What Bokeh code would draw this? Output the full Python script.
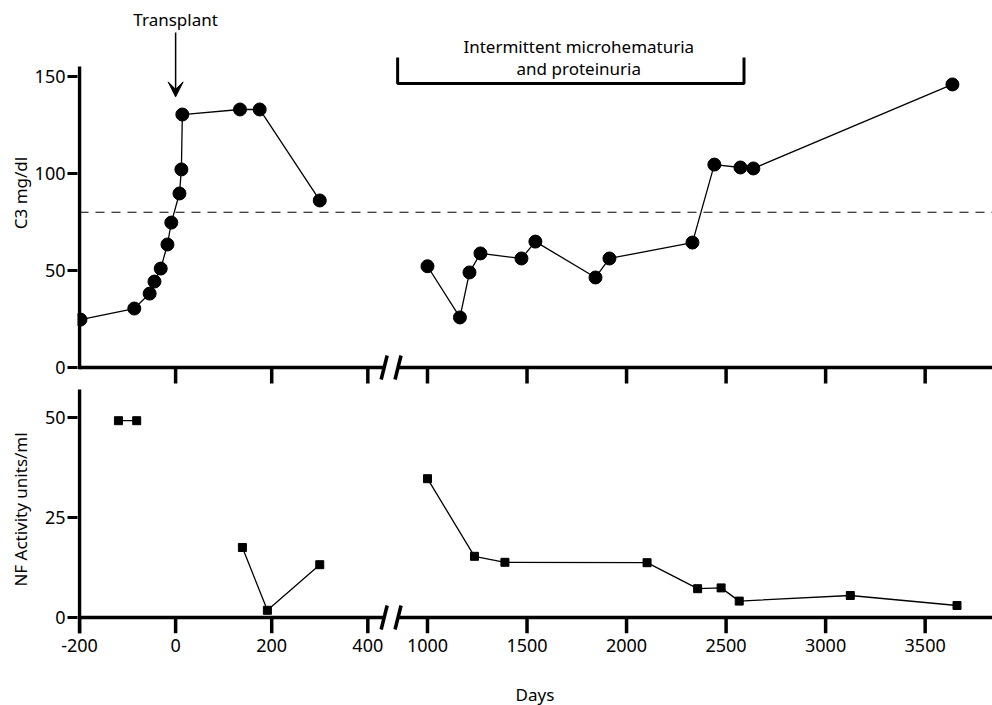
from bokeh.plotting import figure
from bokeh.layouts import column
from bokeh.models import FixedTicker, Range1d, Arrow, VeeHead
from bokeh.core.properties import value
from bokeh.embed import file_html
from bokeh.resources import INLINE

# ---------------- data ----------------
C3_DAYS_EARLY = [-198, -86, -54, -44, -31, -17, -9, 8, 12, 14, 134, 175, 300]
C3_EARLY = [24.7, 30.4, 38.1, 44.3, 51.0, 63.4, 74.7, 89.7, 102.1, 130.4, 133.0, 133.0, 86.1]
C3_DAYS_LATE = [1000, 1163, 1211, 1266, 1472, 1542, 1844, 1914, 2331, 2441, 2572, 2637, 3637]
C3_LATE = [52.2, 25.8, 49.0, 58.8, 56.2, 64.9, 46.4, 56.2, 64.4, 104.6, 103.1, 102.6, 145.9]

NF_DAYS_PRE = [-119, -81]
NF_PRE = [49.2, 49.2]
NF_DAYS_EARLY = [139, 191, 300]
NF_EARLY = [17.5, 1.8, 13.2]
NF_DAYS_LATE = [1000, 1236, 1389, 2103, 2357, 2475, 2566, 3124, 3660]
NF_LATE = [34.7, 15.3, 13.8, 13.7, 7.2, 7.4, 4.1, 5.5, 3.0]

C3_NORMAL_LIMIT = 80
TRANSPLANT_DAY = 0
SYMPTOM_DAYS = [850, 2590]

X_TICKS = [-200, 0, 200, 400, 1000, 1500, 2000, 2500, 3000, 3500]
C3_TICKS = [0, 50, 100, 150]
NF_TICKS = [0, 25, 50]

# ---------------- broken x axis ----------------
BREAK_LEFT_DAY = 434
BREAK_RIGHT_DAY = 852
LATE_ORIGIN_POS = 524.2
LATE_SCALE = 0.4143


def xpos(d):
    if d <= 700:
        return d
    return round(LATE_ORIGIN_POS + (d - 1000) * LATE_SCALE, 3)


def xs(days):
    return [xpos(d) for d in days]


FONT = value("Noto Sans")
FRAME_W = 915
X_START, X_END = -204.2, 1700.1
PX_X = FRAME_W / (X_END - X_START)

TOP_H = 385
TOP_Y = (-9.278, 189.175)
TOP_PX = TOP_H / (TOP_Y[1] - TOP_Y[0])
BOT_H = 248
BOT_Y = (-4.0, 58.0)
BOT_PX = BOT_H / (BOT_Y[1] - BOT_Y[0])

AXW = 3.5


def base_fig(h, yr, **kw):
    p = figure(width=992, height=h, frame_width=FRAME_W, frame_height=h,
               x_range=Range1d(X_START, X_END), y_range=Range1d(*yr),
               output_backend="svg", toolbar_location=None,
               min_border_left=77, min_border_right=0, min_border_top=0,
               **kw)
    p.xgrid.visible = False
    p.ygrid.visible = False
    p.outline_line_color = None
    p.background_fill_color = "white"
    p.border_fill_color = "white"
    return p


def style_y(p, ticks, label, standoff):
    ax = p.yaxis[0]
    ax.ticker = FixedTicker(ticks=ticks)
    ax.axis_line_color = None
    ax.major_tick_out = 10
    ax.major_tick_in = 0
    ax.major_tick_line_width = 3
    ax.major_tick_line_color = "black"
    ax.minor_tick_line_color = None
    ax.major_label_standoff = 2
    ax.major_label_text_font = "Noto Sans"
    ax.major_label_text_font_size = "18px"
    ax.major_label_text_color = "black"
    ax.axis_label = label
    ax.axis_label_text_font = "Noto Sans"
    ax.axis_label_text_font_size = "17px"
    ax.axis_label_text_font_style = "normal"
    ax.axis_label_text_color = "black"
    ax.axis_label_standoff = standoff


def draw_x_axis(p, px_per_y, ticks, y_top_axis):
    tick_len = 16 / px_per_y
    # axis line in two pieces
    p.segment(x0=[xpos(X_TICKS[0])], y0=[0], x1=[xpos(BREAK_LEFT_DAY)], y1=[0],
              line_width=AXW, line_color="black")
    p.segment(x0=[xpos(BREAK_RIGHT_DAY)], y0=[0], x1=[X_END], y1=[0],
              line_width=AXW, line_color="black")
    # y axis line
    p.segment(x0=[xpos(X_TICKS[0])], y0=[-tick_len if ticks[0] == X_TICKS[0] else -1.8 / px_per_y],
              x1=[xpos(X_TICKS[0])], y1=[y_top_axis], line_width=AXW, line_color="black")
    # tick marks
    tx = xs(ticks)
    p.segment(x0=tx, y0=[0] * len(tx), x1=tx, y1=[-tick_len] * len(tx),
              line_width=AXW, line_color="black")
    # break slashes
    dx = 3 / PX_X
    dy = 12 / px_per_y
    for d in (BREAK_LEFT_DAY, BREAK_RIGHT_DAY):
        c = xpos(d)
        p.segment(x0=[c - dx], y0=[-dy], x1=[c + dx], y1=[dy],
                  line_width=AXW, line_color="black")


# ---------------- top panel: C3 ----------------
top = base_fig(TOP_H, TOP_Y, x_axis_location=None, min_border_bottom=0)
style_y(top, C3_TICKS, "C3 mg/dl", 0)
draw_x_axis(top, TOP_PX, X_TICKS[1:], 155.2)

top.segment(x0=[xpos(X_TICKS[0])], y0=[C3_NORMAL_LIMIT], x1=[X_END], y1=[C3_NORMAL_LIMIT],
            line_width=1.1, line_color="black", line_dash="9 7")

for dd, vv in ((C3_DAYS_EARLY, C3_EARLY), (C3_DAYS_LATE, C3_LATE)):
    top.line(xs(dd), vv, line_width=1.3, line_color="black")
    top.scatter(xs(dd), vv, marker="circle", size=13, fill_color="black", line_color="black")

top.add_layout(Arrow(end=VeeHead(size=15, fill_color="black", line_color="black", line_width=1),
                     x_start=xpos(TRANSPLANT_DAY), y_start=172.7,
                     x_end=xpos(TRANSPLANT_DAY), y_end=139.5, line_width=1.5, line_color="black"))
top.text(x=[xpos(TRANSPLANT_DAY)], y=[179.3], text=["Transplant"], text_align="center",
         text_baseline="alphabetic", text_font=FONT, text_font_size="17px", text_color="black")

bx = [xpos(SYMPTOM_DAYS[0]), xpos(SYMPTOM_DAYS[0]), xpos(SYMPTOM_DAYS[1]), xpos(SYMPTOM_DAYS[1])]
top.line(bx, [159.8, 146.4, 146.4, 159.8], line_width=3, line_color="black")
mid = xpos(1760)
top.text(x=[mid, mid], y=[165.6, 154.2], text=["Intermittent microhematuria", "and proteinuria"],
         text_align="center", text_baseline="alphabetic", text_font=FONT,
         text_font_size="17px", text_color="black")

# ---------------- bottom panel: NF activity ----------------
bot = base_fig(BOT_H, BOT_Y, min_border_bottom=72)
style_y(bot, NF_TICKS, "NF Activity units/ml", 10)
draw_x_axis(bot, BOT_PX, X_TICKS, 57.0)

for dd, vv in ((NF_DAYS_PRE, NF_PRE), (NF_DAYS_EARLY, NF_EARLY), (NF_DAYS_LATE, NF_LATE)):
    bot.line(xs(dd), vv, line_width=1.3, line_color="black")
    bot.scatter(xs(dd), vv, marker="square", size=8, fill_color="black", line_color="black")

xa = bot.xaxis[0]
xa.ticker = FixedTicker(ticks=xs(X_TICKS))
xa.major_label_overrides = {xpos(d): str(d) for d in X_TICKS}
xa.axis_line_color = None
xa.major_tick_line_color = None
xa.minor_tick_line_color = None
xa.major_tick_out = 0
xa.major_tick_in = 0
xa.major_label_standoff = 5
xa.major_label_text_font = "Noto Sans"
xa.major_label_text_font_size = "18px"
xa.major_label_text_color = "black"
xa.axis_label = "Days"
xa.axis_label_text_font = "Noto Sans"
xa.axis_label_text_font_size = "17px"
xa.axis_label_text_font_style = "normal"
xa.axis_label_text_color = "black"
xa.axis_label_standoff = 28

layout = column(top, bot, spacing=0)
open("out.html", "w").write(file_html(layout, INLINE))
